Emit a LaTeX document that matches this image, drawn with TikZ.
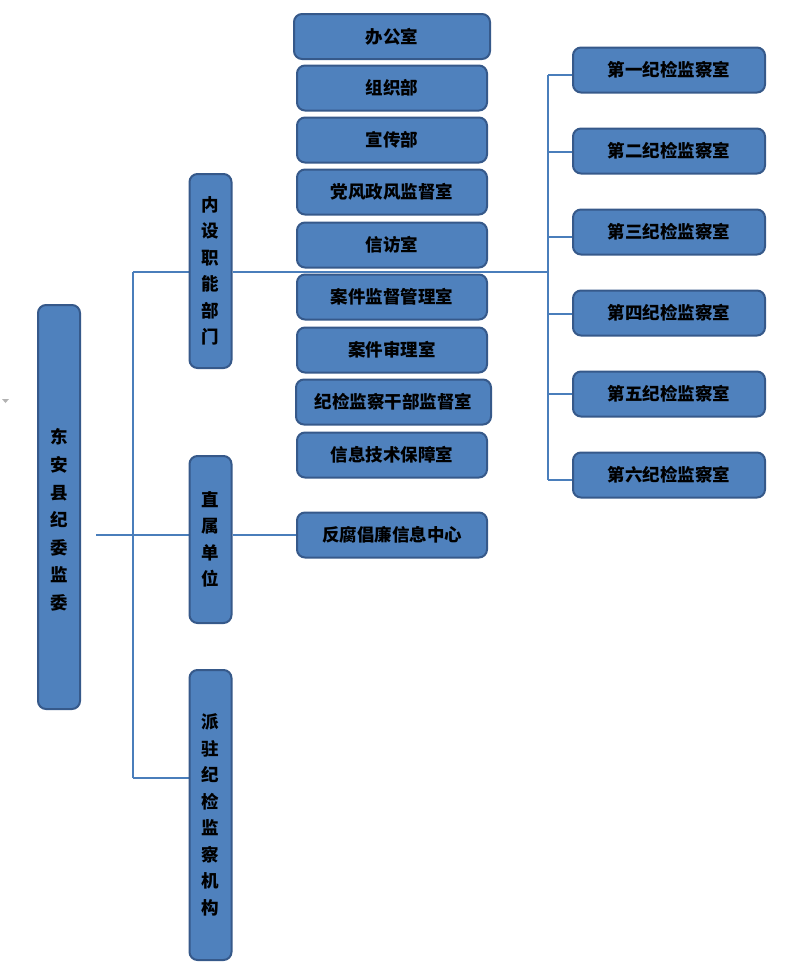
\documentclass[tikz,border=0pt]{standalone}
\usepackage{fontspec}
\newfontfamily\cjk{Noto Sans CJK SC}
\usetikzlibrary{backgrounds}
\definecolor{boxfill}{HTML}{4F81BD}
\definecolor{boxline}{HTML}{36598A}
\definecolor{linkc}{HTML}{4A7EBB}
\tikzset{
  box/.style={draw=boxline, line width=2pt, fill=boxfill, rounded corners=8pt, inner sep=0pt},
  hbox/.style={box, minimum height=45pt, font=\cjk\bfseries\fontsize{17.5}{20}\selectfont},
  vbox/.style={box, minimum width=42pt, align=center, font=\cjk\bfseries\fontsize{17.5}{26.5}\selectfont},
  link/.style={draw=linkc, line width=1.2pt}
}
\begin{document}
\begin{tikzpicture}[x=1pt,y=-1pt]
\useasboundingbox (0,0) rectangle (800,977);
% root
\node[box, minimum width=42pt, minimum height=404pt] (root) at (59,507) {};
\node[font=\cjk\bfseries\fontsize{17.5}{27.6}\selectfont, align=center, inner sep=0pt] (roottxt) at (59,520) {东\\安\\县\\纪\\委\\监\\委};
% second level
\node[vbox, minimum height=194pt] (nz) at (210.5,271) {内\\设\\职\\能\\部\\门};
\node[vbox, minimum height=167pt] (zs) at (210.5,539.5) {直\\属\\单\\位};
\node[vbox, minimum height=290pt] (pz) at (210.5,815) {派\\驻\\纪\\检\\监\\察\\机\\构};
% middle column
\node[hbox, minimum width=196pt] (m1) at (392,36.5) {办公室};
\node[hbox, minimum width=190pt] (m2) at (392,88) {组织部};
\node[hbox, minimum width=190pt] (m3) at (392,140) {宣传部};
\node[hbox, minimum width=190pt] (m4) at (392,192) {党风政风监督室};
\node[hbox, minimum width=190pt] (m5) at (392,245) {信访室};
\node[hbox, minimum width=190pt] (m6) at (392,297) {案件监督管理室};
\node[hbox, minimum width=190pt] (m7) at (392,350) {案件审理室};
\node[hbox, minimum width=195pt] (m8) at (393.5,402) {纪检监察干部监督室};
\node[hbox, minimum width=190pt] (m9) at (392,455) {信息技术保障室};
\node[hbox, minimum width=190pt] (fz) at (392,535) {反腐倡廉信息中心};
% right column
\node[hbox, minimum width=192pt] (r1) at (669,70) {第一纪检监察室};
\node[hbox, minimum width=192pt] (r2) at (669,151) {第二纪检监察室};
\node[hbox, minimum width=192pt] (r3) at (669,232) {第三纪检监察室};
\node[hbox, minimum width=192pt] (r4) at (669,313) {第四纪检监察室};
\node[hbox, minimum width=192pt] (r5) at (669,394) {第五纪检监察室};
\node[hbox, minimum width=192pt] (r6) at (669,475) {第六纪检监察室};
% small mark
\fill[gray!60] (2,399) -- (9,399) -- (5.5,403) -- cycle;
% connectors
\coordinate (rootout) at (96,535);
\coordinate (jr) at (133,535);
\coordinate (t1) at (133,272);
\coordinate (t2) at (133,778);
\coordinate (b1) at (548,75);
\coordinate (bm) at (548,272);
\coordinate (b6) at (548,480);
\begin{pgfonlayer}{background}
\path[link] (rootout) -- (jr) -- (zs.west |- jr);
\path[link] (t1) -- (t2);
\path[link] (t1) -- (nz.west |- t1);
\path[link] (t2) -- (pz.west |- t2);
\path[link] (zs.east |- fz) -- (fz.west);
\path[link] (nz.east |- bm) -- (bm);
\path[link] (b1) -- (b6);
\path[link] (b1) -- (r1.west |- b1);
\path[link] (548,152) -- (r2.west |- 0,152);
\path[link] (548,237) -- (r3.west |- 0,237);
\path[link] (548,314) -- (r4.west |- 0,314);
\path[link] (548,394) -- (r5.west |- 0,394);
\path[link] (b6) -- (r6.west |- b6);
\end{pgfonlayer}
\end{tikzpicture}
\end{document}
